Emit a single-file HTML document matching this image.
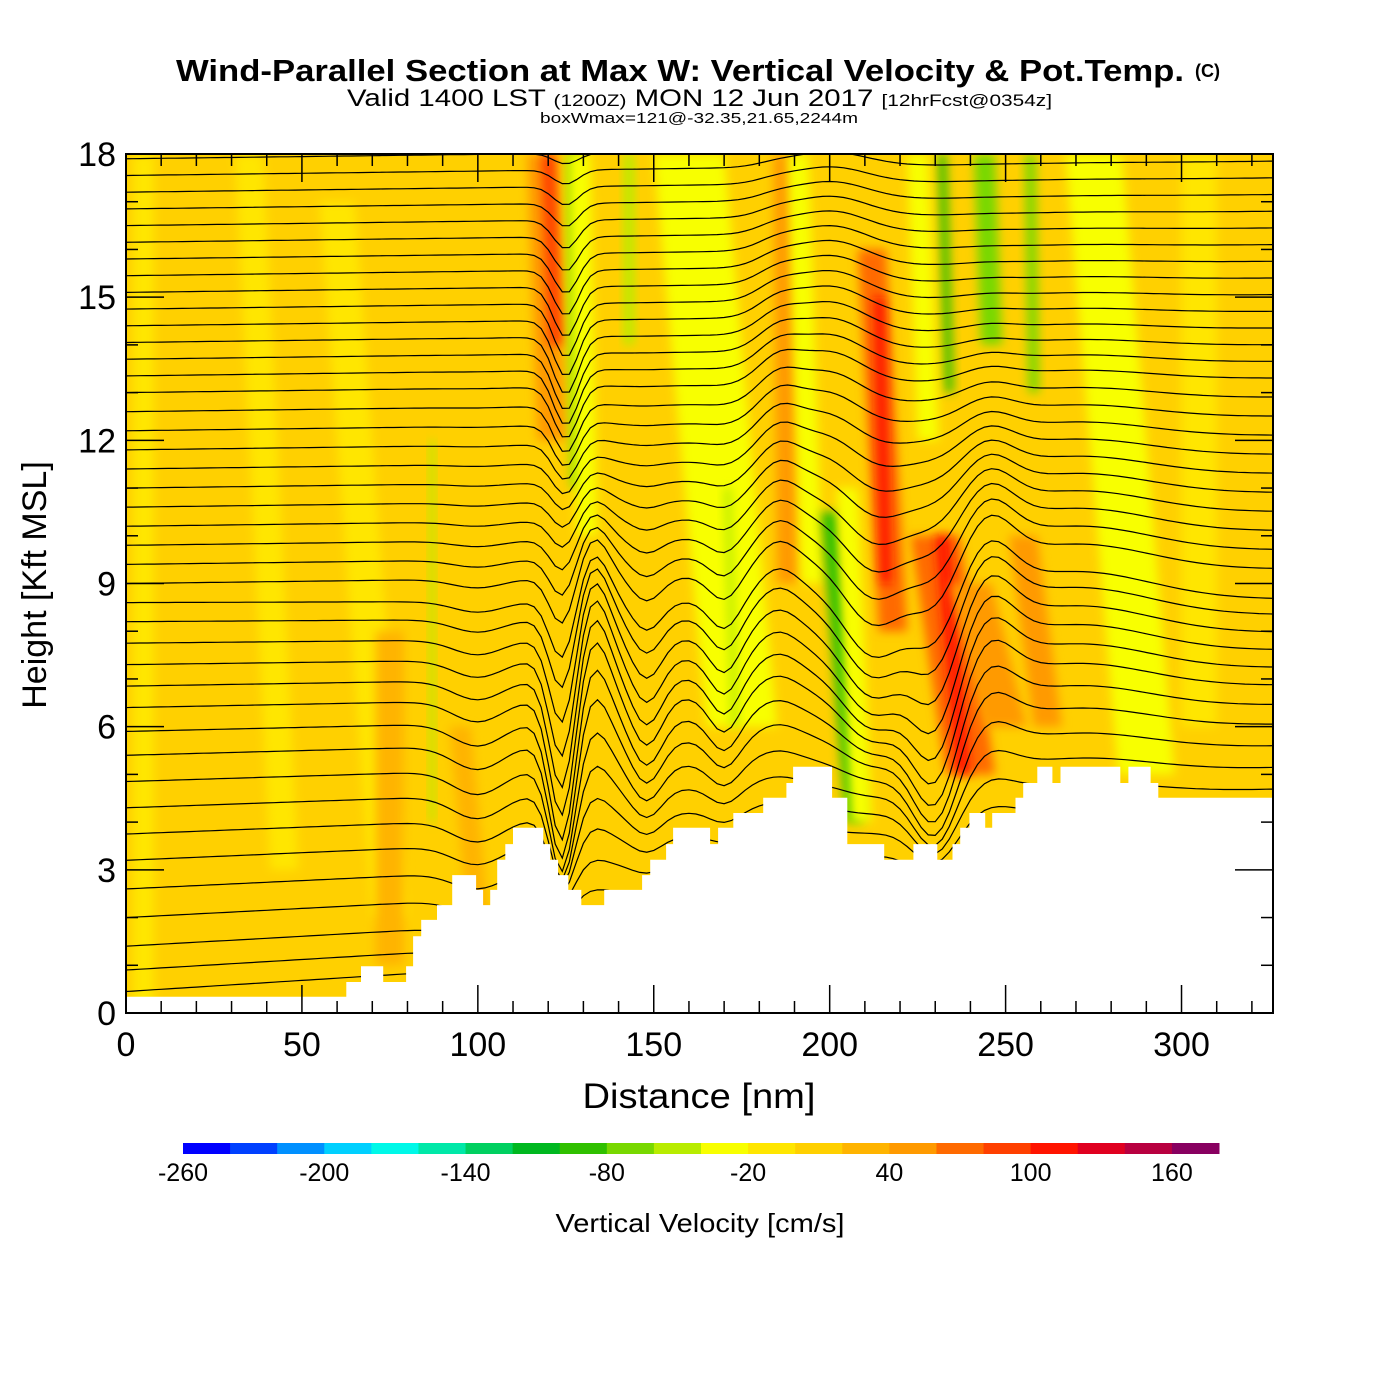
<!DOCTYPE html>
<html><head><meta charset="utf-8"><style>
html,body{margin:0;padding:0;background:#fff;}
body{width:1400px;height:1400px;position:relative;overflow:hidden;font-family:"Liberation Sans",sans-serif;}
</style></head><body>
<svg id="chart" width="1400" height="1400" style="position:absolute;left:0;top:0" xmlns="http://www.w3.org/2000/svg">
<defs>
<clipPath id="pc"><rect x="126" y="154" width="1147" height="859"/></clipPath>
<filter id="bl" x="-50%" y="-20%" width="200%" height="140%"><feGaussianBlur stdDeviation="5"/></filter>
</defs>
<text x="176" y="81" font-size="31" font-weight="bold" font-family="Liberation Sans, sans-serif" textLength="1008" lengthAdjust="spacingAndGlyphs">Wind-Parallel Section at Max W: Vertical Velocity &amp; Pot.Temp.</text>
<text x="1195" y="77" font-size="18" font-weight="bold" font-family="Liberation Sans, sans-serif">(C)</text>
<text x="347" y="106" font-size="24" font-family="Liberation Sans, sans-serif" textLength="705" lengthAdjust="spacingAndGlyphs">Valid 1400 LST <tspan font-size="17">(1200Z)</tspan> MON 12 Jun 2017 <tspan font-size="17">[12hrFcst@0354z]</tspan></text>
<text x="540" y="123" font-size="15" font-family="Liberation Sans, sans-serif" textLength="318" lengthAdjust="spacingAndGlyphs">boxWmax=121@-32.35,21.65,2244m</text>
<g id="field" clip-path="url(#pc)"></g>
<g id="lines" clip-path="url(#pc)"></g>
<g id="terrain" clip-path="url(#pc)"></g>
<g id="axes"></g>
<g id="cbar"></g>
</svg>
<script>
// ---- data ----
const xTicks=[0,50,100,150,200,250,300];
const yTicks=[0,3,6,9,12,15,18];
const cbarLevels=[-260,-240,-220,-200,-180,-160,-140,-120,-100,-80,-60,-40,-20,0,20,40,60,80,100,120,140,160,180];
const cbarColors=["#0000ff","#0040ff","#0090ff","#00d0ff","#00f8e8","#00e8a8","#00d060","#00b820","#30c000","#78d800","#b8ec00","#f8ff00","#ffe600","#ffd000","#ffb400","#ff9a00","#ff6a00","#ff4000","#ff1400","#e00020","#b80040","#880060"];
const cbarLabels=[-260,-200,-140,-80,-20,40,100,160];
// terrain steps: distance [nm] and height [kft]
const terrX=[0,62.6,66.8,73.1,79.6,81.6,83.9,88.4,92.7,99.5,101.5,103.5,105.5,107.8,110,118.6,120.6,122.8,125.7,129.4,135.9,146.7,149,153.5,155.5,166,168.3,172.6,181.1,187.7,189.6,200.7,205,215.5,223.8,230.6,234.9,237.1,239.7,244.2,246.2,252.8,255,259,263.3,265.6,282.6,284.9,291.2,293.4];
const terrH=[0.34,0.65,0.98,0.65,0.98,1.61,1.95,2.26,2.89,2.58,2.26,2.58,3.21,3.54,3.88,3.54,3.21,2.89,2.58,2.26,2.58,2.89,3.21,3.54,3.88,3.54,3.88,4.19,4.51,4.82,5.16,4.51,3.54,3.21,3.54,3.21,3.54,3.88,4.19,3.88,4.19,4.51,4.82,5.16,4.82,5.16,4.82,5.16,4.82,4.51];
// w bands: top/bottom distance [nm], top/bottom height [kft], half-width [nm], value [cm/s]
const bandXTop=[5,35,60,75,95,87,118,120,127,129,143,160,171,187,191,212,214,200,205,230,232,240,232,244,257,275,305,255,225];
const bandXBot=[5,45,75,75,100,87,121,122,128,131,143,175,173,188,195,218,216,207,209,240,238,250,234,246,258,290,305,262,228];
const bandTop=[18,18,17,8,6,12,18,18,18,18,18,18,11,18,18,16,15,10.5,11,10,10,9,18,18,18,18,18,10,18];
const bandBot=[0,3,2,1,2,4,12,14,11,10,14,6,6,9,9,8,9,4,4,5,5,6,13,14,13,5,6,6,12];
const bandW=[3,4,5,4,3,0.8,4,2,1.5,3,1.5,10,1,3,3,4,1.5,2.5,3,7,2,6,1.2,3,1.5,8,5,4,3];
const bandVal=[-10,-10,-10,30,30,-50,50,90,-70,-30,-50,-30,-50,50,-30,70,100,-90,-40,70,100,50,-90,-70,-70,-30,-10,40,-30];
// isentrope base heights at left edge [kft]
const thetaBase=[0.45,0.9,1.4,2.0,2.6,3.2,3.75,4.3,4.85,5.4,5.9,6.4,6.85,7.3,7.75,8.2,8.6,9.0,9.4,9.8,10.2,10.6,11.0,11.4,11.8,12.2,12.6,13.0,13.35,13.7,14.05,14.4,14.75,15.1,15.45,15.8,16.15,16.5,16.85,17.2,17.55,17.9,18.25];
// wave perturbations: center [nm], width [nm], amplitude [kft], vertical center [kft], vertical spread [kft]
const waveX=[124,133,148,170,185,212,230,245,100,125,200,270];
const waveW=[5,6,6,6,8,12,9,10,10,5,15,30];
const waveA=[-2.6,1.3,-1.0,-0.8,0.6,-1.4,-2.0,1.0,-0.5,-1.2,0.7,0.6];
const waveC=[6,7,6.5,7,10,8,6,8,5,14,13,8];
const waveS=[3,3,3,3,5,3,3,4,4,3,5,5];

// ---- helpers ----
const NS='http://www.w3.org/2000/svg';
const X=nm=>126+nm*(1147/326);
const Y=k=>1013-k*(859/18);
function mk(tag,attrs,parent){const e=document.createElementNS(NS,tag);for(const k in attrs)e.setAttribute(k,attrs[k]);parent.appendChild(e);return e;}
function colorOf(v){for(let i=0;i<cbarColors.length;i++){if(v<cbarLevels[i+1])return cbarColors[i];}return cbarColors[cbarColors.length-1];}

// field
const field=document.getElementById('field');
const bg=mk('rect',{x:126,y:154,width:1147,height:859,fill:'#ffd000'},field);


for(let i=0;i<bandVal.length;i++){
  const p=mk('polygon',{points:[X(bandXTop[i]-bandW[i])+','+Y(bandTop[i]),X(bandXTop[i]+bandW[i])+','+Y(bandTop[i]),X(bandXBot[i]+bandW[i])+','+Y(bandBot[i]),X(bandXBot[i]-bandW[i])+','+Y(bandBot[i])].join(' '),fill:colorOf(bandVal[i]),filter:'url(#bl)'},field);
  
  
}
// isentropes
const lines=document.getElementById('lines');
for(let j=0;j<thetaBase.length;j++){
  const h0=thetaBase[j];let d='';
  for(let nm=0;nm<=326;nm+=2){
    let h=h0+ (h0<9? (9-h0)/9*1.6*nm/326 :0.3*nm/326);
    for(let w=0;w<waveX.length;w++){
      const gx=Math.exp(-Math.pow((nm-waveX[w])/waveW[w],2));
      const gz=Math.exp(-Math.pow((h0-waveC[w])/waveS[w],2));
      h+=waveA[w]*gx*gz;
    }
    d+=(nm?'L':'M')+X(nm).toFixed(1)+','+Y(h).toFixed(1);
  }
  const p=mk('path',{d:d,fill:'none',stroke:'#000','stroke-width':1.2},lines);
  
  
}
// terrain
const terr=document.getElementById('terrain');
let td='M'+X(0)+','+Y(0);
for(let i=0;i<terrX.length;i++){td+='L'+X(terrX[i]).toFixed(1)+','+Y(terrH[i]).toFixed(1);const nx=i+1<terrX.length?terrX[i+1]:326;td+='L'+X(nx).toFixed(1)+','+Y(terrH[i]).toFixed(1);}
td+='L'+X(326)+','+Y(0)+'Z';
const tp=mk('path',{d:td,fill:'#fff'},terr);


// axes
const ax=document.getElementById('axes');
const fr=mk('rect',{x:126,y:154,width:1147,height:859,fill:'none',stroke:'#000','stroke-width':2},ax);


for(let k=0;k<=18;k++){
  const L=k%3===0?38:12;
  mk('line',{x1:126,x2:126+L,y1:Y(k),y2:Y(k),stroke:'#000','stroke-width':1.5},ax);
  mk('line',{x1:1273,x2:1273-L,y1:Y(k),y2:Y(k),stroke:'#000','stroke-width':1.5},ax);
}
for(let nm=0;nm<=320;nm+=10){
  const L=nm%50===0?28:12;
  mk('line',{x1:X(nm),x2:X(nm),y1:1013,y2:1013-L,stroke:'#000','stroke-width':1.5},ax);
  mk('line',{x1:X(nm),x2:X(nm),y1:154,y2:154+L,stroke:'#000','stroke-width':1.5},ax);
}
for(const t of xTicks){const e=mk('text',{x:X(t),y:1056,'font-size':34,'text-anchor':'middle','font-family':'Liberation Sans, sans-serif'},ax);e.textContent=t;

}
for(const t of yTicks){const e=mk('text',{x:116,y:Y(t)+12,'font-size':34,'text-anchor':'end','font-family':'Liberation Sans, sans-serif'},ax);e.textContent=t;

}
const xt=mk('text',{x:699,y:1108,'font-size':35,'text-anchor':'middle','font-family':'Liberation Sans, sans-serif',textLength:233,lengthAdjust:'spacingAndGlyphs'},ax);xt.textContent='Distance [nm]';


const yt=mk('text',{x:0,y:0,'font-size':34,'text-anchor':'middle','font-family':'Liberation Sans, sans-serif',transform:'translate(46,585) rotate(-90)'},ax);yt.textContent='Height [Kft MSL]';


// colorbar
const cb=document.getElementById('cbar');
const cw=(1219-183)/cbarColors.length;
for(let i=0;i<cbarColors.length;i++){
  const r=mk('rect',{x:183+i*cw,y:1143,width:cw+0.5,height:11,fill:cbarColors[i]},cb);
  
  
}
for(const v of cbarLabels){const i=cbarLevels.indexOf(v);const e=mk('text',{x:183+i*cw,y:1181,'font-size':25,'text-anchor':'middle','font-family':'Liberation Sans, sans-serif'},cb);e.textContent=v;

}
const ct=mk('text',{x:700,y:1232,'font-size':26,'text-anchor':'middle','font-family':'Liberation Sans, sans-serif',textLength:289,lengthAdjust:'spacingAndGlyphs'},cb);ct.textContent='Vertical Velocity [cm/s]';


</script>
</body></html>
